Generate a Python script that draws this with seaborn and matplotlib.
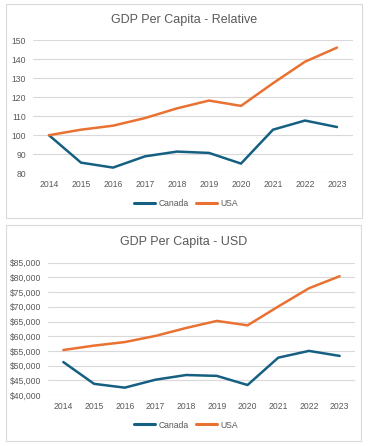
import pandas as pd
import matplotlib
matplotlib.use("Agg")
import matplotlib.pyplot as plt
from matplotlib.patches import Rectangle
from matplotlib.ticker import FuncFormatter
import seaborn as sns

years = ["2014", "2015", "2016", "2017", "2018", "2019", "2020", "2021", "2022", "2023"]
canada_rel = [100, 85.6, 83.0, 88.9, 91.4, 90.7, 85.1, 102.9, 107.7, 104.3]
usa_rel = [100, 102.9, 105.0, 109.0, 114.1, 118.2, 115.4, 127.3, 138.6, 146.0]
canada_usd = [51200, 43800, 42500, 45200, 46800, 46500, 43400, 52700, 55000, 53300]
usa_usd = [55300, 56800, 58000, 60100, 62800, 65200, 63700, 70100, 76300, 80400]

palette = {"Canada": "#156082", "USA": "#E97132"}
grey = "#595959"

sns.set_style("white")
plt.rcParams["font.family"] = ["Liberation Sans", "DejaVu Sans"]


def long_form(canada, usa):
    return pd.DataFrame({
        "year": years * 2,
        "value": canada + usa,
        "country": ["Canada"] * len(years) + ["USA"] * len(years),
    })


fig = plt.figure(figsize=(3.7, 4.46), dpi=100)
W, H = 370, 446


def px_axes(x0, x1, y0, y1):
    return fig.add_axes([x0 / W, 1 - y1 / H, (x1 - x0) / W, (y1 - y0) / H])


def frame_box(x0, x1, y0, y1):
    fig.patches.append(Rectangle((x0 / W, 1 - y1 / H), (x1 - x0) / W, (y1 - y0) / H,
                                 transform=fig.transFigure, fill=False,
                                 edgecolor="#D9D9D9", linewidth=0.8))


def draw(ax, df, title, title_y, legend_y, ylim, step, fmt=None):
    sns.lineplot(data=df, x="year", y="value", hue="country", palette=palette,
                 linewidth=1.8, ax=ax, sort=False)
    ax.set_xlim(-0.5, len(years) - 0.5)
    ax.set_ylim(*ylim)
    ax.set_yticks(range(ylim[0], ylim[1] + 1, step))
    if fmt:
        ax.yaxis.set_major_formatter(FuncFormatter(fmt))
    ax.grid(axis="y", color="#D9D9D9", linewidth=0.8)
    ax.set_axisbelow(True)
    for s in ax.spines.values():
        s.set_visible(False)
    ax.tick_params(axis="both", length=0, labelsize=6.2, labelcolor=grey, pad=5)
    ax.set_xlabel("")
    ax.set_ylabel("")
    h, l = ax.get_legend_handles_labels()
    for hd in h:
        hd.set_linewidth(2.2)
    ax.legend(h, l, loc="center", bbox_to_anchor=(186 / W, 1 - legend_y / H),
              bbox_transform=fig.transFigure, ncol=2, frameon=False,
              fontsize=6.2, labelcolor=grey, handlelength=2.4, columnspacing=0.9,
              handletextpad=0.4)
    fig.text(184 / W, 1 - title_y / H, title, ha="center", va="center",
             fontsize=9, color=grey)


frame_box(6, 362, 4, 218)
frame_box(6, 361, 225, 441)

ax1 = px_axes(33, 353, 40, 173.3)
draw(ax1, long_form(canada_rel, usa_rel), "GDP Per Capita - Relative", 20, 204,
     (80, 150), 10)

ax2 = px_axes(48, 355, 262.7, 395)
draw(ax2, long_form(canada_usd, usa_usd), "GDP Per Capita - USD", 241.7, 425,
     (40000, 85000), 5000, lambda v, p: f"${v:,.0f}")

fig.savefig("out.png", dpi=100)
